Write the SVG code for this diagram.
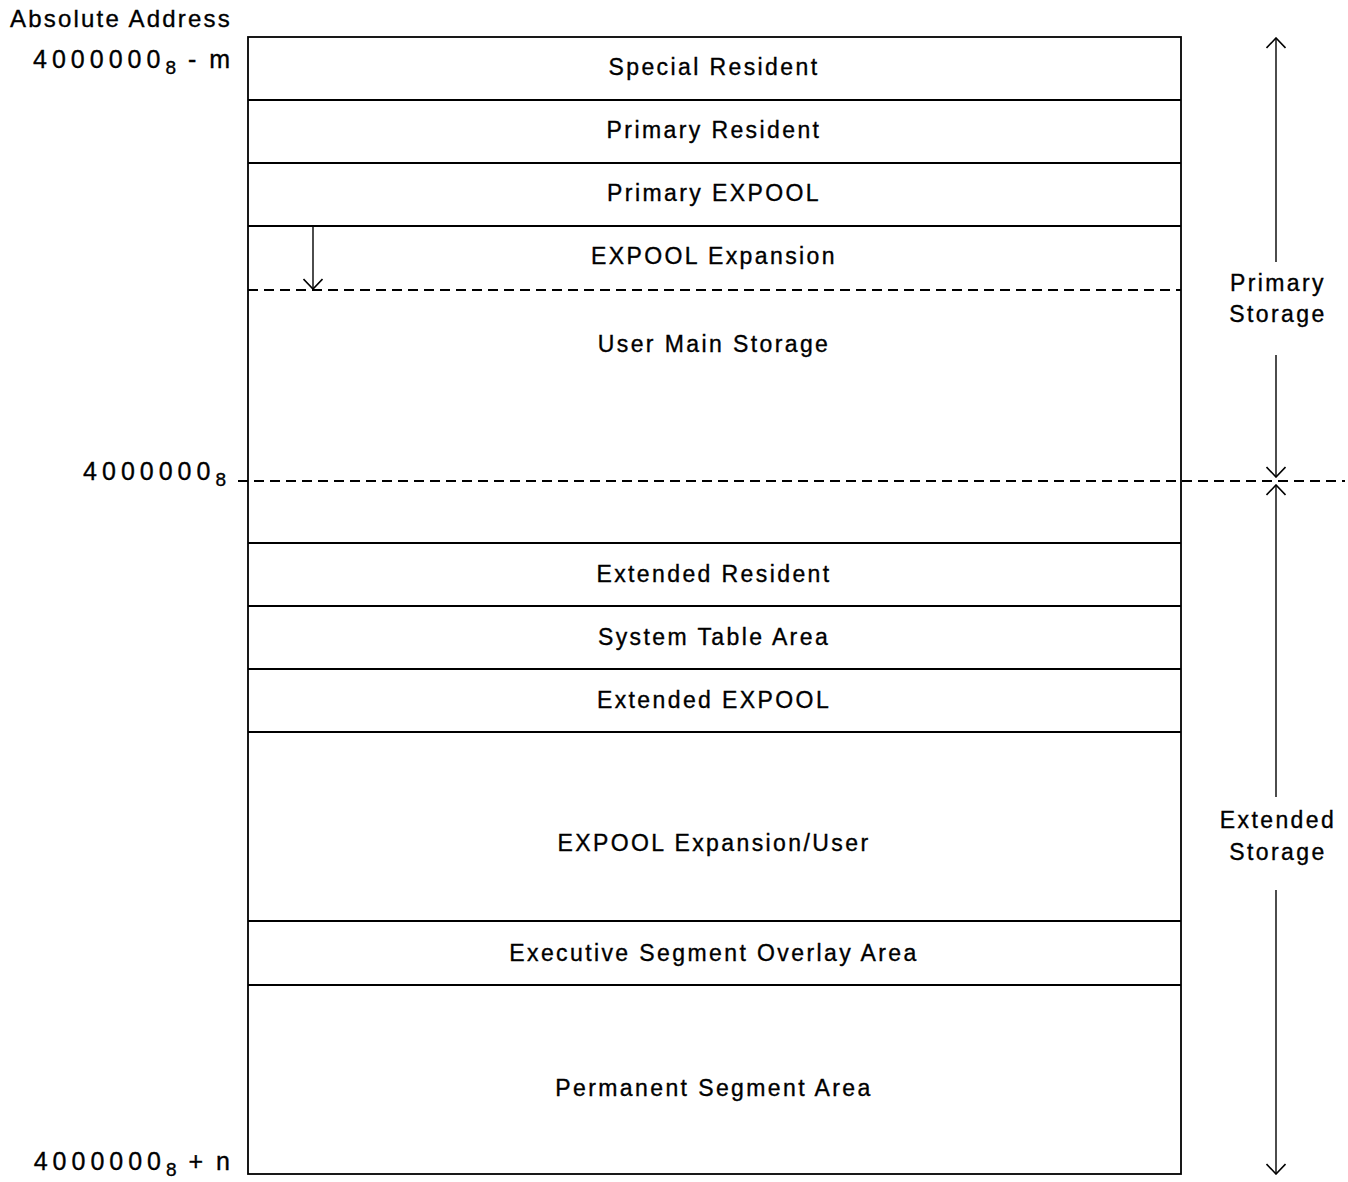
<svg xmlns="http://www.w3.org/2000/svg" width="1348" height="1182" viewBox="0 0 1348 1182">
<defs>
<style>
text{font-family:"Liberation Sans",Arial,sans-serif;font-size:23px;fill:#000;stroke:#000;stroke-width:0.35;letter-spacing:2.4px}
.c{text-anchor:middle}
.r{text-anchor:end}
.lab{font-size:25px;letter-spacing:5px}
.sub{font-size:19px;letter-spacing:2px}
.ln{stroke:#000;stroke-width:1.8;fill:none}
.ar{stroke:#000;stroke-width:1.4;fill:none}
.dash{stroke:#000;stroke-width:1.8;fill:none;stroke-dasharray:10 6}
</style>
<marker id="ah" viewBox="0 0 20 20" refX="19" refY="10" markerWidth="20" markerHeight="20" markerUnits="userSpaceOnUse" orient="auto-start-reverse">
<path d="M9 0.5 L19 10 L9 19.5" fill="none" stroke="#000" stroke-width="1.6"/>
</marker>
</defs>
<rect width="1348" height="1182" fill="#fff"/>
<g id="labels-left">
<text x="10" y="27" style="font-size:24px;letter-spacing:2.2px">Absolute Address</text>
<text x="233" y="68" class="r lab">4000000<tspan class="sub" dy="6">8</tspan><tspan dy="-6" style="letter-spacing:3px"> - m</tspan></text>
<text x="228" y="480" class="r lab">4000000<tspan class="sub" dy="6">8</tspan></text>
<text x="233" y="1170" class="r lab">4000000<tspan class="sub" dy="6">8</tspan><tspan dy="-6" style="letter-spacing:3px"> + n</tspan></text>
</g>
<g id="connectors">
<line class="dash" x1="248" y1="290" x2="1181" y2="290"/>
<line class="dash" x1="238" y1="481" x2="1345" y2="481"/>
<line class="ar" x1="313" y1="226" x2="313" y2="289" marker-end="url(#ah)"/>
<line class="ar" x1="1276" y1="38" x2="1276" y2="262" marker-start="url(#ah)"/>
<line class="ar" x1="1276" y1="355" x2="1276" y2="477" marker-end="url(#ah)"/>
<line class="ar" x1="1276" y1="485" x2="1276" y2="797" marker-start="url(#ah)"/>
<line class="ar" x1="1276" y1="890" x2="1276" y2="1174" marker-end="url(#ah)"/>
</g>
<g id="frame">
<rect class="ln" x="248" y="37" width="933" height="1137"/>
</g>
<g id="special-resident"><line class="ln" x1="248" y1="100" x2="1181" y2="100"/><text x="714" y="75" class="c">Special Resident</text></g>
<g id="primary-resident"><line class="ln" x1="248" y1="163" x2="1181" y2="163"/><text x="714" y="138" class="c">Primary Resident</text></g>
<g id="primary-expool"><line class="ln" x1="248" y1="226" x2="1181" y2="226"/><text x="714" y="201" class="c">Primary EXPOOL</text></g>
<g id="expool-expansion"><text x="714" y="264" class="c">EXPOOL Expansion</text></g>
<g id="user-main-storage"><text x="714" y="352" class="c">User Main Storage</text></g>
<g id="extended-resident"><line class="ln" x1="248" y1="543" x2="1181" y2="543"/><line class="ln" x1="248" y1="606" x2="1181" y2="606"/><text x="714" y="582" class="c">Extended Resident</text></g>
<g id="system-table-area"><line class="ln" x1="248" y1="669" x2="1181" y2="669"/><text x="714" y="645" class="c">System Table Area</text></g>
<g id="extended-expool"><line class="ln" x1="248" y1="732" x2="1181" y2="732"/><text x="714" y="708" class="c">Extended EXPOOL</text></g>
<g id="expool-expansion-user"><line class="ln" x1="248" y1="921" x2="1181" y2="921"/><text x="714" y="851" class="c">EXPOOL Expansion/User</text></g>
<g id="executive-segment-overlay"><line class="ln" x1="248" y1="985" x2="1181" y2="985"/><text x="714" y="961" class="c">Executive Segment Overlay Area</text></g>
<g id="permanent-segment-area"><text x="714" y="1096" class="c">Permanent Segment Area</text></g>
<g id="primary-storage"><text x="1278" y="291" class="c">Primary</text><text x="1278" y="322" class="c">Storage</text></g>
<g id="extended-storage"><text x="1278" y="828" class="c">Extended</text><text x="1278" y="860" class="c">Storage</text></g>
</svg>
